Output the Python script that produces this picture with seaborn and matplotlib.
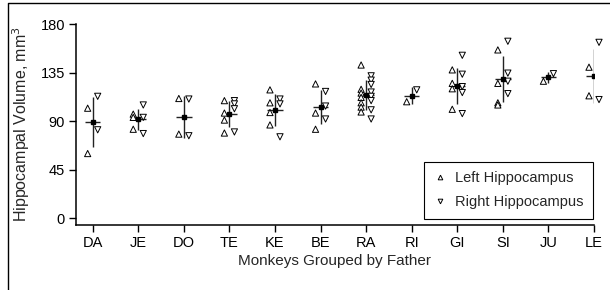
import pandas as pd
import numpy as np
import matplotlib.pyplot as plt
import seaborn as sns
from matplotlib.lines import Line2D

# ------------------------
# 1. Data
# ------------------------
fathers = ["DA", "JE", "DO", "TE", "KE", "BE", "RA", "RI", "GI", "SI", "JU", "LE"]

left_vol = {
    "DA": [102, 60],
    "JE": [96.5, 93.5, 82.5],
    "DO": [111, 78],
    "TE": [109, 97.5, 91, 79],
    "KE": [119, 107, 98, 86.5],
    "BE": [124.5, 97.5, 82.5],
    "RA": [142, 119.5, 116, 112, 107, 103, 98.5],
    "RI": [108],
    "GI": [137.5, 125, 120, 101],
    "SI": [156, 125, 107, 105],
    "JU": [127],
    "LE": [140, 113.5],
}
right_vol = {
    "DA": [113, 82],
    "JE": [105, 93.5, 78.5],
    "DO": [110.5, 76.5],
    "TE": [109, 106, 101.5, 80],
    "KE": [110.5, 106, 75.5],
    "BE": [117.5, 104, 92],
    "RA": [132, 128, 124, 117, 113, 109, 100.5, 92],
    "RI": [119],
    "GI": [151, 133.5, 122, 116.5, 97],
    "SI": [164, 134.5, 127, 115.5],
    "JU": [134],
    "LE": [163, 110],
}

# ------------------------
# 2. Long table
# ------------------------
rows = []
for i, f in enumerate(fathers):
    for v in left_vol[f]:
        rows.append({"Father": f, "pos": i - 0.11, "Side": "Left Hippocampus", "Volume": v})
    for v in right_vol[f]:
        rows.append({"Father": f, "pos": i + 0.11, "Side": "Right Hippocampus", "Volume": v})
df = pd.DataFrame(rows)

stats = df.groupby("Father", sort=False)["Volume"].agg(["mean", "std"]).reindex(fathers)
stats["std"] = stats["std"].fillna(0)
stats["x"] = np.arange(len(fathers))

# ------------------------
# 3. Plot
# ------------------------
sns.set_style("ticks")
plt.rcParams["font.family"] = ["Liberation Sans", "DejaVu Sans"]

fig = plt.figure(figsize=(6.1, 2.9), dpi=100)
ax = fig.add_axes([76 / 610, 1 - 225 / 290, (594 - 76) / 610, (225 - 24) / 290])

# mean +/- SD
ax.errorbar(stats["x"], stats["mean"], yerr=stats["std"], fmt="none",
            ecolor="#222222", elinewidth=1, capsize=0, zorder=2)
ax.hlines(stats["mean"], stats["x"] - 0.17, stats["x"] + 0.17,
          color="#222222", lw=1, zorder=2)

sns.scatterplot(data=df, x="pos", y="Volume", style="Side",
                markers={"Left Hippocampus": "^", "Right Hippocampus": "v"},
                color="white", edgecolor="black", linewidth=0.7, s=20,
                ax=ax, zorder=3, clip_on=False)

ax.plot(stats["x"], stats["mean"], "s", color="black", ms=3.5, zorder=4)

ax.set_xlim(-0.366, 11)
ax.set_ylim(-6.2, 180)
ax.set_yticks([0, 45, 90, 135, 180])
ax.set_xticks(stats["x"])
ax.set_xticklabels(fathers)
ax.tick_params(labelsize=10.5, length=5, width=1, color="black", labelcolor="black", pad=3)
ax.set_xlabel("Monkeys Grouped by Father", fontsize=11, labelpad=3)
ax.set_ylabel("Hippocampal Volume, mm$^3$", fontsize=11.5, labelpad=6)
sns.despine(ax=ax)
for s in ["left", "bottom"]:
    ax.spines[s].set_linewidth(1.1)
    ax.spines[s].set_color("black")

leg = ax.legend(loc="lower right", bbox_to_anchor=(0.998, 0.03), borderaxespad=0,
                fontsize=10.5, frameon=True, fancybox=False, edgecolor="black",
                framealpha=1, handlelength=1.0, handletextpad=0.5, borderpad=0.65,
                labelspacing=0.7, markerscale=0.75)
leg.get_frame().set_linewidth(0.8)

# frame around the figure (cropped at right/bottom)
fig.add_artist(Line2D([8 / 610, 8 / 610, 1.0], [0.0, 1 - 3 / 290, 1 - 3 / 290],
                      transform=fig.transFigure, color="black", lw=1))

fig.savefig("out.png", dpi=100)
